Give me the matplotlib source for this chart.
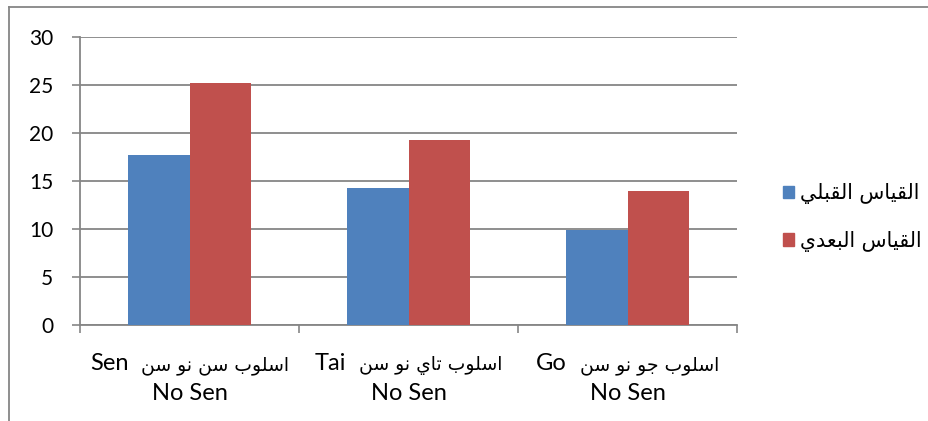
import numpy as np
import matplotlib.pyplot as plt
from matplotlib.lines import Line2D
from matplotlib.patches import Patch

# Datos
metodos_ar = ["اسلوب سن نو سن", "اسلوب تاي نو سن", "اسلوب جو نو سن"]
metodos_en = ["Sen", "Tai", "Go"]
segunda_linea = ["No Sen", "No Sen", "No Sen"]
series = ["القياس القبلي", "القياس البعدي"]
pre = [17.7, 14.3, 9.9]
post = [25.2, 19.3, 14.0]
y_ticks = [0, 5, 10, 15, 20, 25, 30]

# formas de presentacion arabes: aislada, final, inicial, media
FORMAS = {
    'ا': ('\uFE8D', '\uFE8E', None, None),
    'ب': ('\uFE8F', '\uFE90', '\uFE91', '\uFE92'),
    'ت': ('\uFE95', '\uFE96', '\uFE97', '\uFE98'),
    'ج': ('\uFE9D', '\uFE9E', '\uFE9F', '\uFEA0'),
    'د': ('\uFEA9', '\uFEAA', None, None),
    'س': ('\uFEB1', '\uFEB2', '\uFEB3', '\uFEB4'),
    'ع': ('\uFEC9', '\uFECA', '\uFECB', '\uFECC'),
    'ق': ('\uFED5', '\uFED6', '\uFED7', '\uFED8'),
    'ل': ('\uFEDD', '\uFEDE', '\uFEDF', '\uFEE0'),
    'ن': ('\uFEE5', '\uFEE6', '\uFEE7', '\uFEE8'),
    'و': ('\uFEED', '\uFEEE', None, None),
    'ي': ('\uFEF1', '\uFEF2', '\uFEF3', '\uFEF4'),
}


def arabe(texto):
    # une las letras y las pone en orden visual (de izquierda a derecha)
    salida = []
    for i, ch in enumerate(texto):
        if ch not in FORMAS:
            salida.append(ch)
            continue
        prev = texto[i - 1] if i > 0 else None
        sig = texto[i + 1] if i + 1 < len(texto) else None
        une_prev = prev in FORMAS and FORMAS[prev][2] is not None
        une_sig = sig in FORMAS and FORMAS[ch][2] is not None
        iso, fin, ini, med = FORMAS[ch]
        if une_prev and une_sig:
            salida.append(med)
        elif une_prev:
            salida.append(fin)
        elif une_sig:
            salida.append(ini)
        else:
            salida.append(iso)
    return ''.join(salida)[::-1]


plt.rcParams['font.family'] = ['Lato', 'DejaVu Sans']
gris = '#868686'
azul = '#4F81BD'
rojo = '#C0504D'

fig = plt.figure(figsize=(9.29, 4.21), dpi=100)
ax = fig.add_axes([80 / 929, 1 - 325 / 421, (737 - 80) / 929, (325 - 37) / 421])

x = np.arange(len(pre))
ancho = 0.283
ax.bar(x - ancho / 2, pre, ancho, color=azul, zorder=3)
ax.bar(x + ancho / 2, post, ancho, color=rojo, zorder=3)

ax.set_xlim(-0.5, 2.5)
ax.set_ylim(0, 30)
ax.set_yticks(y_ticks)
ax.tick_params(axis='y', length=5.8, width=1.2, color=gris, pad=13.5, labelsize=15)
ax.grid(axis='y', color=gris, linewidth=1.3, zorder=0)

ax.set_xticks([-0.5, 0.5, 1.5, 2.5])
ax.set_xticklabels([])
ax.tick_params(axis='x', which='major', length=5.5, width=1.2, color=gris)

for lado in ['top', 'right']:
    ax.spines[lado].set_visible(False)
for lado in ['left', 'bottom']:
    ax.spines[lado].set_color(gris)
    ax.spines[lado].set_linewidth(1.3)

# etiquetas de categoria: parte latina + parte arabe centradas juntas
fig.canvas.draw()
renderer = fig.canvas.get_renderer()
hueco = 13
for i, (ar, en, l2) in enumerate(zip(metodos_ar, metodos_en, segunda_linea)):
    t_en = ax.annotate(en, xy=(i, 0), xycoords=('data', 'axes fraction'),
                       xytext=(0, -45), textcoords='offset pixels',
                       ha='left', va='baseline', fontsize=17, family='Lato')
    t_ar = ax.annotate(arabe(ar), xy=(i, 0), xycoords=('data', 'axes fraction'),
                       xytext=(0, -45), textcoords='offset pixels',
                       ha='left', va='baseline', fontsize=13.5, family='DejaVu Sans')
    w_en = t_en.get_window_extent(renderer).width
    w_ar = t_ar.get_window_extent(renderer).width
    total = w_en + hueco + w_ar
    t_en.xyann = (-total / 2, -45)
    t_ar.xyann = (-total / 2 + w_en + hueco, -45)
    ax.annotate(l2, xy=(i, 0), xycoords=('data', 'axes fraction'),
                xytext=(0, -75), textcoords='offset pixels',
                ha='center', va='baseline', fontsize=17, family='Lato')

manejadores = [Patch(color=azul), Patch(color=rojo)]
ax.legend(manejadores, [arabe(s) for s in series], loc='center left',
          bbox_to_anchor=(783 / 929, 1 - 217.5 / 421), bbox_transform=fig.transFigure,
          frameon=False, prop={'family': 'DejaVu Sans', 'size': 14.8},
          handlelength=0.55, handleheight=0.55, handletextpad=0.3,
          labelspacing=1.28, borderpad=0, borderaxespad=0)

# borde exterior
fig.add_artist(Line2D([9 / 929, 1], [1 - 7 / 421, 1 - 7 / 421], color=gris, lw=1.3))
fig.add_artist(Line2D([9 / 929, 9 / 929], [0, 1 - 7 / 421], color=gris, lw=1.3))

fig.savefig('out.png', dpi=100)
